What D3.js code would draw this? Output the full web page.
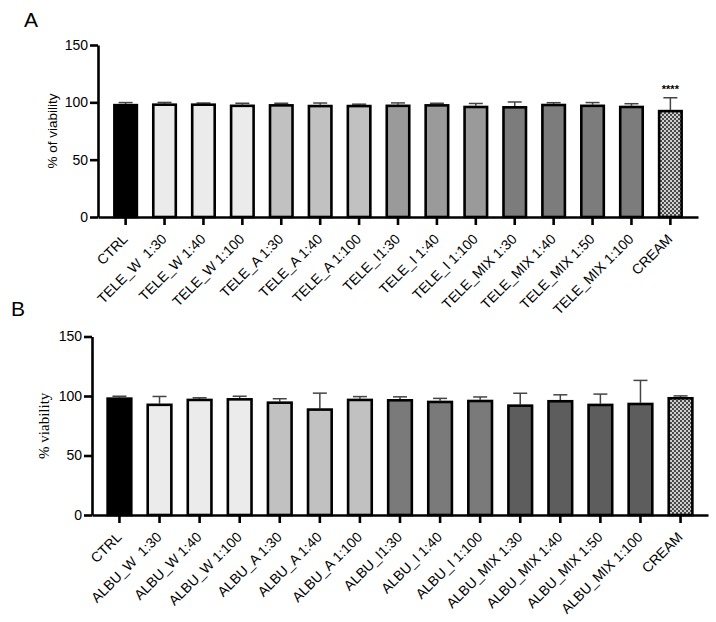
<!DOCTYPE html>
<html>
<head>
<meta charset="utf-8">
<script src="https://cdn.jsdelivr.net/npm/d3@7"></script>
<style>
  body{margin:0;background:#fff;}
  svg{display:block;}
</style>
</head>
<body>
<svg id="chart" width="716" height="622"></svg>
<script>
// panel A - TELE extracts
var catsA=['CTRL','TELE_W  1:30','TELE_W 1:40','TELE_W 1:100','TELE_A 1:30','TELE_A 1:40','TELE_A 1:100',
    'TELE_I1:30','TELE_I 1:40','TELE_I 1:100','TELE_MIX 1:30','TELE_MIX 1:40','TELE_MIX 1:50','TELE_MIX 1:100','CREAM'];
var valuesA=[98.6,99.0,99.0,98.0,98.4,97.8,97.8,98.0,98.4,97.0,96.7,98.7,98.0,97.0,93.4];
var errorsA=[1.2,0.9,0.4,1.2,0.8,1.6,0.6,1.5,0.8,2.0,3.6,1.0,1.8,1.8,10.6];

// panel B - ALBU extracts
var catsB=['CTRL','ALBU_W  1:30','ALBU_W 1:40','ALBU_W 1:100','ALBU_A 1:30','ALBU_A 1:40','ALBU_A 1:100',
    'ALBU_I1:30','ALBU_I 1:40','ALBU_I 1:100','ALBU_MIX 1:30','ALBU_MIX 1:40','ALBU_MIX 1:50','ALBU_MIX 1:100','CREAM'];
var valuesB=[98.8,93.6,97.7,98.2,95.4,89.6,97.7,97.4,96.0,96.8,92.9,96.6,93.5,94.3,99.1];
var errorsB=[1.0,6.0,0.8,1.6,2.3,12.8,1.8,1.9,2.0,2.4,9.4,4.4,8.1,18.8,1.0];

var yTicks=[0,50,100,150];

// fill per group: ctrl, W, A, I, MIX, cream
var groupsOf=[0,1,1,1,2,2,2,3,3,3,4,4,4,4,5];
var fillsA=['#000000','#ebebeb','#c1c1c1','#9a9a9a','#7c7c7c','url(#checker)'];
var fillsB=['#000000','#ebebeb','#c1c1c1','#7a7a7a','#5d5d5d','url(#checker)'];

var svg=d3.select('#chart');
var family='"Liberation Sans", Arial, sans-serif';
var serif='"Liberation Serif", "Times New Roman", serif';

d3.selection.prototype.styles=function(o){
    var s=this;
    Object.keys(o).forEach(function(k){s.style(k,o[k]);});
    return s;
};

// checker pattern for CREAM
var pat=svg.append('defs').append('pattern')
    .attr('id','checker')
    .attr('patternUnits','userSpaceOnUse')
    .attr('width',4).attr('height',4);
pat.append('rect').attr('width',4).attr('height',4).attr('fill','#cfcfcf');
pat.append('rect').attr('width',2).attr('height',2).attr('fill','#4a4a4a');
pat.append('rect').attr('x',2).attr('y',2).attr('width',2).attr('height',2).attr('fill','#4a4a4a');

function drawPanel(cfg){
    var g=svg.append('g');
    var x=d3.scaleBand()
        .domain(cfg.cats)
        .range([cfg.left,cfg.right])
        .paddingInner(cfg.padIn)
        .paddingOuter(cfg.padOut);
    var y=d3.scaleLinear().domain([0,150]).range([cfg.bottom,cfg.top]);
    var cx=function(i){return x(cfg.cats[i])+x.bandwidth()/2;};

    // error bars (upper only)
    var eb=g.selectAll('.err')
        .data(cfg.values)
        .enter()
        .append('g')
        .attr('class','err');
    eb.append('line')
        .attr('x1',function(d,i){return cx(i);})
        .attr('x2',function(d,i){return cx(i);})
        .attr('y1',function(d){return y(d);})
        .attr('y2',function(d,i){return y(d+cfg.errors[i]);})
        .attr('stroke','#444').attr('stroke-width',1.5);
    eb.append('line')
        .attr('x1',function(d,i){return cx(i)-7;})
        .attr('x2',function(d,i){return cx(i)+7;})
        .attr('y1',function(d,i){return y(d+cfg.errors[i]);})
        .attr('y2',function(d,i){return y(d+cfg.errors[i]);})
        .attr('stroke','#444').attr('stroke-width',1.5);

    // bars
    g.selectAll('.bar')
        .data(cfg.values)
        .enter()
        .append('rect')
        .attr('class','bar')
        .attr('x',function(d,i){return x(cfg.cats[i])+1.2;})
        .attr('width',x.bandwidth()-2.4)
        .attr('y',function(d){return y(d)+1.2;})
        .attr('height',function(d){return cfg.bottom-y(d)-1.2;})
        .attr('fill',function(d,i){return cfg.fills[groupsOf[i]];})
        .attr('stroke','#000')
        .attr('stroke-width',2.6);

    // y axis
    var yAxis=g.append('g')
        .attr('transform','translate('+cfg.left+',0)')
        .call(d3.axisLeft(y).tickValues(yTicks).tickSize(8).tickSizeOuter(0).tickPadding(2));
    // x axis
    var xAxis=g.append('g')
        .attr('transform','translate(0,'+cfg.bottom+')')
        .call(d3.axisBottom(x).tickSize(8).tickSizeOuter(0));

    [yAxis,xAxis].forEach(function(a){
        a.select('.domain').attr('stroke','#000').attr('stroke-width',2.6);
        a.selectAll('.tick line').attr('stroke','#000').attr('stroke-width',2.6);
        a.selectAll('.tick text').attr('fill','#000').styles({'font-family':family});
    });
    yAxis.selectAll('.tick text').style('font-size','14px');
    xAxis.selectAll('.tick text')
        .style('font-size','14px')
        .style('white-space','pre')
        .attr('text-anchor','end')
        .attr('dy',0)
        .attr('y',0)
        .attr('transform','translate(3,23) rotate(-45)');

    // y title
    g.append('text')
        .attr('transform','translate('+cfg.titleX+','+(y(75))+') rotate(-90)')
        .attr('text-anchor','middle')
        .styles({'font-family':cfg.titleFamily,'font-size':cfg.titleSize,'fill':'#000'})
        .text(cfg.title);

    // panel letter
    g.append('text')
        .attr('x',cfg.letterX).attr('y',cfg.letterY)
        .styles({'font-family':family,'font-size':'21px','fill':'#000'})
        .text(cfg.letter);

    // significance mark
    if(cfg.star){
        var si=cfg.cats.indexOf(cfg.star.cat);
        g.append('text')
            .attr('x',cx(si))
            .attr('y',y(cfg.values[si]+cfg.errors[si])-5)
            .attr('text-anchor','middle')
            .styles({'font-family':family,'font-size':'11px','font-weight':'bold','fill':'#000'})
            .text(cfg.star.text);
    }
}

drawPanel({
    cats:catsA,values:valuesA,errors:errorsA,fills:fillsA,
    left:98,right:698,top:45,bottom:217,padIn:0.36,padOut:0.39,
    title:'% of viability',titleFamily:family,titleSize:'13.5px',titleX:57,
    letter:'A',letterX:24,letterY:27,
    star:{cat:'CREAM',text:'****'}
});
drawPanel({
    cats:catsB,values:valuesB,errors:errorsB,fills:fillsB,
    left:92,right:708,top:336.5,bottom:515,padIn:0.35,padOut:0.36,
    title:'% viability',titleFamily:serif,titleSize:'15px',titleX:49,
    letter:'B',letterX:11,letterY:316
});
</script>
</body>
</html>
